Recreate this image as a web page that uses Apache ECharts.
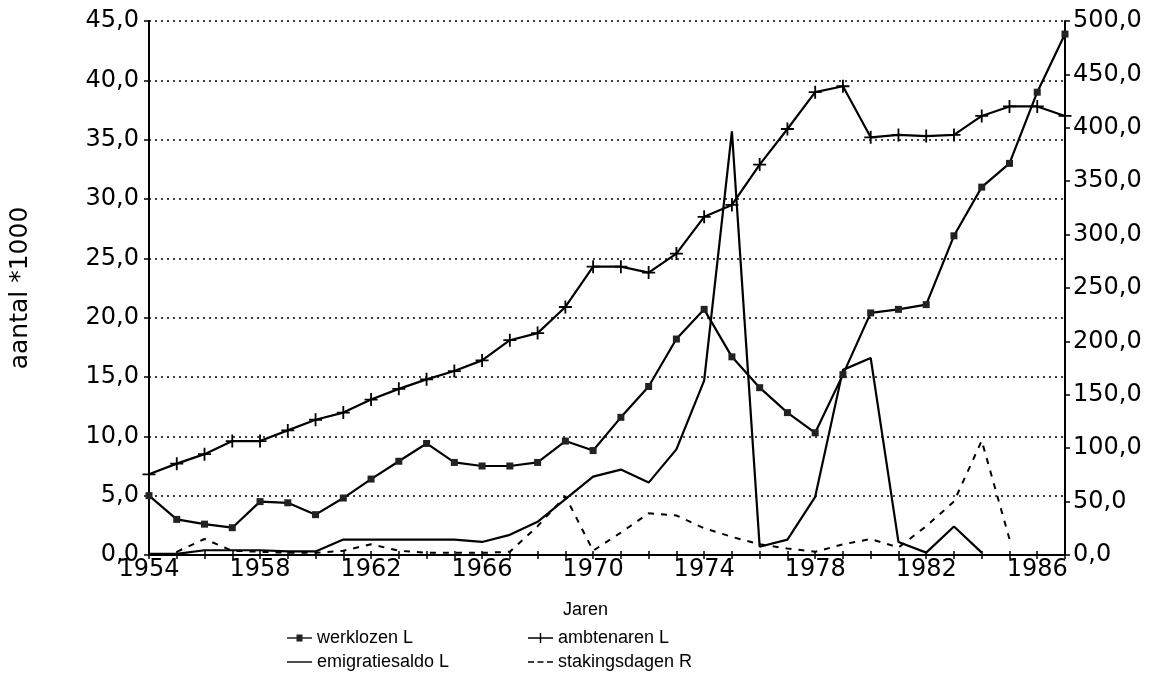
<!DOCTYPE html>
<html>
<head>
<meta charset="utf-8">
<script src="https://cdn.jsdelivr.net/npm/echarts/dist/echarts.min.js"></script>
<style>
  html, body { margin: 0; padding: 0; background: #fff; }
  #chart { width: 1153px; height: 686px; }
</style>
</head>
<body>
<div id="chart"></div>
<script>
// jaren 1954 - 1987
const jaren = ['1954', '1955', '1956', '1957', '1958', '1959', '1960', '1961', '1962', '1963', '1964',
  '1965', '1966', '1967', '1968', '1969', '1970', '1971', '1972', '1973', '1974', '1975', '1976',
  '1977', '1978', '1979', '1980', '1981', '1982', '1983', '1984', '1985', '1986', '1987'];

// linker as (aantal *1000)
const werklozen = [5.0, 3.0, 2.6, 2.3, 4.5, 4.4, 3.4, 4.8, 6.4, 7.9, 9.4, 7.8, 7.5,
  7.5, 7.8, 9.6, 8.8, 11.6, 14.2, 18.2, 20.7, 16.7, 14.1, 12.0, 10.3,
  15.2, 20.4, 20.7, 21.1, 26.9, 31.0, 33.0, 39.0, 43.9];
const ambtenaren = [6.8, 7.7, 8.5, 9.6, 9.6, 10.5, 11.4, 12.0, 13.1, 14.0, 14.8, 15.5, 16.4,
  18.1, 18.7, 20.9, 24.3, 24.3, 23.8, 25.4, 28.5, 29.5, 32.9, 35.9,
  39.0, 39.5, 35.2, 35.4, 35.3, 35.4, 37.0, 37.8, 37.8, 37.0];
const emigratiesaldo = [0.1, 0.1, 0.4, 0.4, 0.4, 0.3, 0.3, 1.3, 1.3, 1.3, 1.3, 1.3, 1.1,
  1.7, 2.8, 4.7, 6.6, 7.2, 6.1, 8.9, 14.7, 35.7, 0.7, 1.3, 4.9,
  15.6, 16.6, 1.1, 0.2, 2.4, 0.2, null, null, null];

// rechter as
const stakingsdagen = [null, 3, 15, 4, 3, 2, 2, 4, 10, 4, 2, 2, 2,
  3, 27, 55, 4, 21, 39, 37, 25, 17, 10, 6, 3,
  10, 15, 7, 27, 50, 107, 15, null, null];

const linksTicks = { min: 0, max: 45, interval: 5 };
const rechtsTicks = { min: 0, max: 500, interval: 50 };

// kommagetal zoals 45,0
const komma = (v) => v.toFixed(1).replace('.', ',');

const tickFont = { color: '#000', fontFamily: 'DejaVu Sans', fontSize: 24 };
const legendFont = { color: '#000', fontFamily: 'Liberation Sans', fontSize: 18 };
const plus = 'path://M4.3,0H5.7V4.3H10V5.7H5.7V10H4.3V5.7H0V4.3H4.3Z';

// legenda-icoontjes: lijn met merkteken
const iconVierkant = 'path://M0,4.3H25V5.7H0Z M9.5,1.5H15.5V8.5H9.5Z';
const iconPlus = 'path://M0,4.3H25V5.7H0Z M11.8,0H13.2V10H11.8Z';
const iconLijn = 'path://M0,4.3H25V5.7H0Z';
const iconStreep = 'path://M0,4.3H6V5.7H0Z M9.5,4.3H15.5V5.7H9.5Z M19,4.3H25V5.7H19Z';

const chart = echarts.init(document.getElementById('chart'), null, { renderer: 'canvas' });

chart.setOption({
  animation: false,
  backgroundColor: '#fff',
  title: {
    text: 'Jaren',
    left: 558,
    top: 596,
    textStyle: { color: '#000', fontFamily: 'Liberation Sans', fontSize: 18, fontWeight: 'normal' },
  },
  grid: { left: 147, right: 88, top: 21, bottom: 131 },
  legend: [
    {
      left: 282, top: 624, orient: 'vertical', itemGap: 6, itemWidth: 25, itemHeight: 10,
      data: [
        { name: 'werklozen L', icon: iconVierkant },
        { name: 'emigratiesaldo L', icon: iconLijn },
      ],
      textStyle: legendFont,
    },
    {
      left: 523, top: 624, orient: 'vertical', itemGap: 6, itemWidth: 25, itemHeight: 10,
      data: [
        { name: 'ambtenaren L', icon: iconPlus },
        { name: 'stakingsdagen R', icon: iconStreep },
      ],
      textStyle: legendFont,
    },
  ],
  xAxis: [
    {
      type: 'category',
      data: jaren,
      boundaryGap: false,
      axisLine: { lineStyle: { color: '#000', width: 2 } },
      axisTick: { interval: 0, length: 4, lineStyle: { color: '#000', width: 1.5 } },
      axisLabel: { interval: 3, margin: 3, ...tickFont },
      splitLine: { show: false },
    },
    {
      // kruisjes aan de binnenkant van de as
      type: 'category',
      position: 'bottom',
      data: jaren,
      boundaryGap: false,
      axisLine: { show: false },
      axisTick: { inside: true, interval: 0, length: 4, lineStyle: { color: '#000', width: 1.5 } },
      axisLabel: { show: false },
    },
  ],
  yAxis: [
    {
      type: 'value',
      ...linksTicks,
      name: 'aantal *1000',
      nameLocation: 'middle',
      nameGap: 116,
      nameTextStyle: { color: '#000', fontFamily: 'DejaVu Sans', fontSize: 25 },
      axisLine: { show: true, lineStyle: { color: '#000', width: 2 } },
      axisTick: { show: true, length: 5, lineStyle: { color: '#000', width: 1.5 } },
      axisLabel: { margin: 10, formatter: komma, ...tickFont },
      splitLine: { show: true, lineStyle: { color: '#000', width: 1.5, type: [2, 4] } },
    },
    {
      type: 'value',
      ...rechtsTicks,
      position: 'right',
      axisLine: { show: true, lineStyle: { color: '#000', width: 2 } },
      axisTick: { show: true, length: 5, lineStyle: { color: '#000', width: 1.5 } },
      axisLabel: { margin: 8, formatter: komma, ...tickFont },
      splitLine: { show: false },
    },
  ],
  series: [
    {
      name: 'werklozen L',
      type: 'line',
      data: werklozen,
      yAxisIndex: 0,
      symbol: 'rect',
      symbolSize: 7,
      itemStyle: { color: '#222' },
      lineStyle: { color: '#000', width: 2.2 },
    },
    {
      name: 'ambtenaren L',
      type: 'line',
      data: ambtenaren,
      yAxisIndex: 0,
      symbol: plus,
      symbolSize: 13,
      itemStyle: { color: '#000' },
      lineStyle: { color: '#000', width: 2.2 },
    },
    {
      name: 'emigratiesaldo L',
      type: 'line',
      data: emigratiesaldo,
      yAxisIndex: 0,
      symbol: 'none',
      itemStyle: { color: '#000' },
      lineStyle: { color: '#000', width: 2.2 },
    },
    {
      name: 'stakingsdagen R',
      type: 'line',
      data: stakingsdagen,
      yAxisIndex: 1,
      symbol: 'none',
      itemStyle: { color: '#000' },
      lineStyle: { color: '#000', width: 2, type: [6, 7] },
    },
  ],
});
</script>
</body>
</html>
